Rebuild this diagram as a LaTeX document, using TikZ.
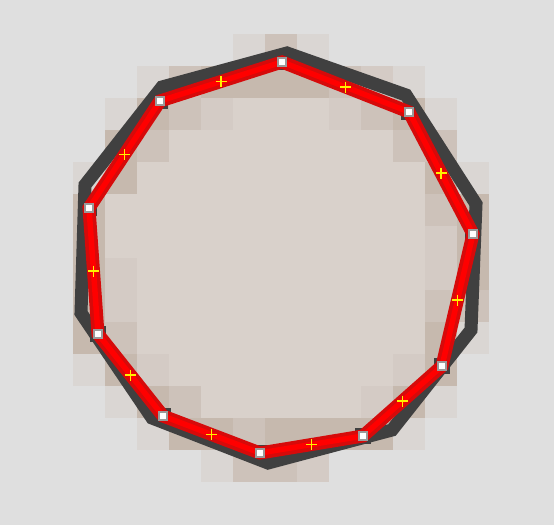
\documentclass[tikz,border=0pt]{standalone}
\usetikzlibrary{calc}
\definecolor{cB}{HTML}{DFDFDF}
\definecolor{cA}{HTML}{DAD6D3}
\definecolor{cM}{HTML}{D4CBC5}
\definecolor{cC}{HTML}{CDC2BA}
\definecolor{cD}{HTML}{C6B9AE}
\definecolor{cI}{HTML}{D9D1CB}
\definecolor{darkline}{HTML}{404040}
\definecolor{redout}{HTML}{D60A0A}
\definecolor{redin}{HTML}{FF0000}
\definecolor{markgray}{HTML}{9A9A9A}
\tikzset{
  darkpoly/.style={draw=darkline, line width=13pt, line join=miter},
  redpolyout/.style={draw=redout, line width=13pt, line join=miter},
  redpolyin/.style={draw=redin, line width=5.5pt, line join=miter},
  dsq/.style={rectangle, fill=darkline, minimum size=16pt, inner sep=0pt},
  vmark/.style={rectangle, fill=white, draw=markgray, line width=2.5pt, minimum size=8pt, inner sep=0pt},
  ymark/.style={draw=yellow, line width=1.2pt}
}
\begin{document}
\begin{tikzpicture}[x=1pt,y=-1pt]
\fill[cB] (0,0) rectangle (554,525);
\useasboundingbox (0,0) rectangle (554,525);
% pixelated disc
\foreach \row [count=\r from 0] in {
 {B,B,B,B,B,A,C,A,B,B,B,B,B},
 {B,B,A,C,D,D,D,D,C,M,A,B,B},
 {B,A,D,C,M,I,I,I,M,C,D,A,B},
 {B,D,C,I,I,I,I,I,I,I,C,C,B},
 {A,D,I,I,I,I,I,I,I,I,I,D,A},
 {D,I,I,I,I,I,I,I,I,I,I,C,D},
 {D,I,I,I,I,I,I,I,I,I,I,M,D},
 {D,M,I,I,I,I,I,I,I,I,I,M,D},
 {D,M,I,I,I,I,I,I,I,I,I,C,C},
 {D,C,I,I,I,I,I,I,I,I,I,D,A},
 {A,D,M,I,I,I,I,I,I,I,M,D,B},
 {B,A,D,C,I,I,I,I,I,M,D,A,B},
 {B,B,A,D,D,C,D,D,D,D,A,B,B},
 {B,B,B,B,A,C,C,M,B,B,B,B,B}} {
  \foreach \k [count=\c from 0] in \row {
    \fill[c\k] ({73+32*\c},{34+32*\r}) rectangle ++(32.4,32.4);
  }
}
% red polygon vertices
\coordinate (v0) at (282,62);
\coordinate (v1) at (409,112);
\coordinate (v2) at (473,234);
\coordinate (v3) at (442,366);
\coordinate (v4) at (363,436);
\coordinate (v5) at (260,453);
\coordinate (v6) at (163,416);
\coordinate (v7) at (98,334);
\coordinate (v8) at (89,208);
\coordinate (v9) at (160,101);
% dark polygon vertices
\coordinate (d0) at (287,53);
\coordinate (d1) at (406,95);
\coordinate (d2) at (476,204);
\coordinate (d3) at (471,330);
\coordinate (d4) at (392,430);
\coordinate (d5) at (268,463);
\coordinate (d6) at (152,418);
\coordinate (d7) at (81,313);
\coordinate (d8) at (85,185);
\coordinate (d9) at (162,87);
\draw[darkpoly] (d0) -- (d1) -- (d2) -- (d3) -- (d4) -- (d5) -- (d6) -- (d7) -- (d8) -- (d9) -- cycle;
\foreach \i in {0,...,9} { \node[dsq] (s\i) at (v\i) {}; }
\draw[redpolyout] (v0) -- (v1) -- (v2) -- (v3) -- (v4) -- (v5) -- (v6) -- (v7) -- (v8) -- (v9) -- cycle;
\draw[redpolyin] (v0) -- (v1) -- (v2) -- (v3) -- (v4) -- (v5) -- (v6) -- (v7) -- (v8) -- (v9) -- cycle;
\foreach \i in {0,...,9} { \node[vmark] (m\i) at (v\i) {}; }
\foreach \i/\j in {0/1,1/2,2/3,3/4,4/5,5/6,6/7,7/8,8/9,9/0} {
  \coordinate (h\i) at ($(v\i)!0.5!(v\j)$);
  \draw[ymark] ($(h\i)+(-5.5,0)$) -- ($(h\i)+(5.5,0)$);
  \draw[ymark] ($(h\i)+(0,-5.5)$) -- ($(h\i)+(0,5.5)$);
}
\end{tikzpicture}
\end{document}
